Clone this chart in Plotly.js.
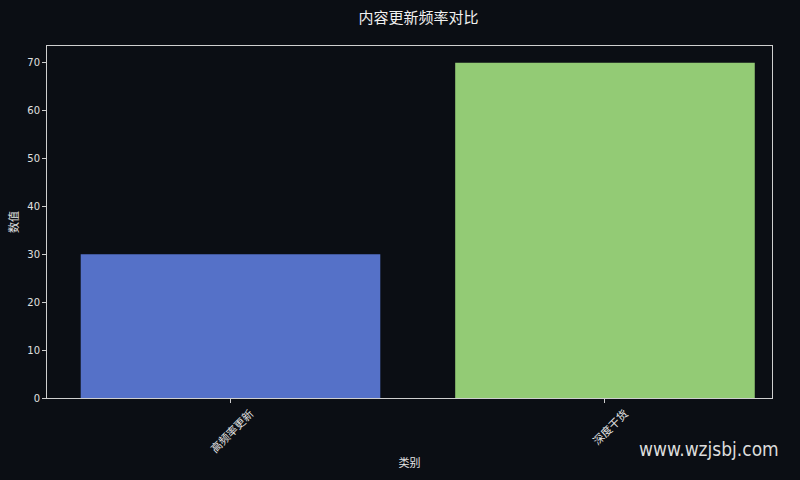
<!DOCTYPE html>
<html>
<head>
<meta charset="utf-8">
<script src="https://cdn.plot.ly/plotly-3.0.1.min.js"></script>
<style>
  html, body { margin: 0; padding: 0; background: #0b0e14; }
  #chart { width: 800px; height: 480px; }
</style>
</head>
<body>
<div id="chart"></div>
<script>
// 数据
var categories = ['高频率更新', '深度干货'];
var values = [30, 70];
var barColors = ['#5571c8', '#93cb75'];
var yTicks = [0, 10, 20, 30, 40, 50, 60, 70];

var fontFamily = '"Noto Sans CJK SC", "DejaVu Sans", sans-serif';
var numFont = '"DejaVu Sans", "Noto Sans CJK SC", sans-serif';

var trace = {
    x: categories,
    y: values,
    type: 'bar',
    width: 0.8,
    marker: { color: barColors, line: { width: 0 } },
    hoverinfo: 'x+y'
};

var layout = {
    width: 800,
    height: 480,
    paper_bgcolor: '#0b0e14',
    plot_bgcolor: '#0b0e14',
    margin: { l: 47, r: 28, t: 46, b: 82 },
    font: { family: fontFamily, color: '#e6e6e6', size: 11 },
    title: {
        text: '内容更新频率对比',
        font: { size: 15, color: '#f0f0f0', family: fontFamily },
        x: 0.523, xanchor: 'center', y: 0.962, yanchor: 'middle'
    },
    xaxis: {
        range: [-0.49, 1.446],
        tickangle: -45,
        ticklabelshift: 20,
        ticks: 'outside', ticklen: 4, tickcolor: '#cccccc',
        tickfont: { size: 11, color: '#e6e6e6' },
        showgrid: false, zeroline: false,
        showline: true, linecolor: '#cfcfcf', linewidth: 1, mirror: true,
        title: { text: '类别', font: { size: 11, color: '#e6e6e6' }, standoff: 4 }
    },
    yaxis: {
        range: [0, 73.5],
        tickvals: yTicks,
        ticks: 'outside', ticklen: 4, tickcolor: '#cccccc',
        tickfont: { size: 10, color: '#e0e0e0', family: numFont },
        showgrid: false, zeroline: false,
        showline: true, linecolor: '#cfcfcf', linewidth: 1, mirror: true,
        title: { text: '数值', font: { size: 11, color: '#e6e6e6' }, standoff: 6 }
    },
    annotations: [{
        text: 'www.wzjsbj.com',
        xref: 'paper', yref: 'paper',
        x: 1.013, y: -0.145, xanchor: 'right', yanchor: 'middle',
        showarrow: false,
        font: { family: '"DejaVu Sans Condensed", "Liberation Sans Narrow", sans-serif', size: 19, color: '#dcdcdc' }
    }],
    showlegend: false,
    bargap: 0.2
};

Plotly.newPlot('chart', [trace], layout, { displayModeBar: false, staticPlot: true });
</script>
</body>
</html>
